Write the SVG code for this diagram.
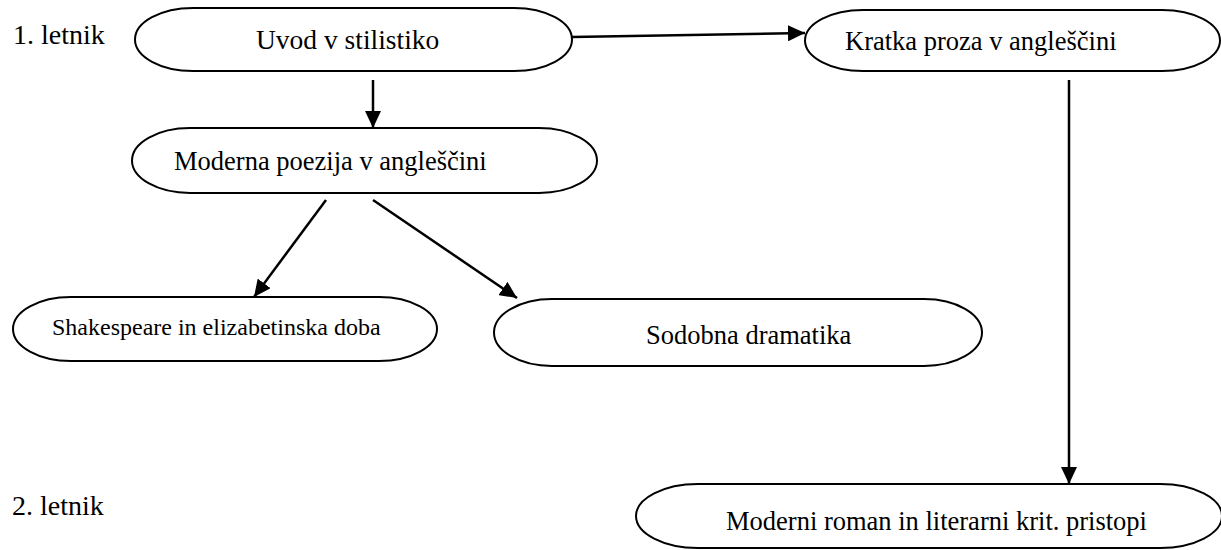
<svg xmlns="http://www.w3.org/2000/svg" width="1221" height="550" viewBox="0 0 1221 550">
<style>
.n{fill:#fff;stroke:#000;stroke-width:2}
.t{font-family:"Liberation Serif","Times New Roman",serif;font-size:26.5px;fill:#000}
.s{font-size:24px}
.l{font-size:28px}
.c{stroke:#000;stroke-width:2.5;fill:none;marker-end:url(#a)}
</style>
<defs>
<marker id="a" markerUnits="userSpaceOnUse" markerWidth="17" markerHeight="16" refX="17" refY="8" orient="auto">
<path d="M0,0 L17,8 L0,16 z" fill="#000"/>
</marker>
</defs>
<rect width="1221" height="550" fill="#fff"/>
<text class="t l" x="13" y="44">1. letnik</text>
<text class="t l" x="12" y="515">2. letnik</text>
<g id="n1"><rect class="n" x="135" y="8" width="437" height="63" rx="58" ry="31.5"/><text class="t" x="256" y="49" style="font-size:27.5px">Uvod v stilistiko</text></g>
<g id="n2"><rect class="n" x="805" y="10" width="415" height="61" rx="58" ry="30.5"/><text class="t" x="845" y="50">Kratka proza v angleščini</text></g>
<g id="n3"><rect class="n" x="132" y="128" width="465" height="65" rx="58" ry="32.5"/><text class="t" x="174" y="170">Moderna poezija v angleščini</text></g>
<g id="n4"><rect class="n" x="13" y="297" width="424" height="64" rx="58" ry="32"/><text class="t s" x="52" y="335">Shakespeare in elizabetinska doba</text></g>
<g id="n5"><rect class="n" x="494" y="299" width="488" height="67" rx="58" ry="33.5"/><text class="t" x="646" y="344">Sodobna dramatika</text></g>
<g id="n6"><rect class="n" x="636" y="484" width="586" height="64" rx="62" ry="32"/><text class="t" x="726" y="530">Moderni roman in literarni krit. pristopi</text></g>
<g id="connectors">
<line class="c" x1="572" y1="37" x2="805" y2="33"/>
<line class="c" x1="373" y1="80" x2="373" y2="128"/>
<line class="c" x1="1069" y1="80" x2="1069" y2="484"/>
<line class="c" x1="326" y1="200" x2="254" y2="297"/>
<line class="c" x1="373" y1="200" x2="517" y2="298"/>
</g>
</svg>
